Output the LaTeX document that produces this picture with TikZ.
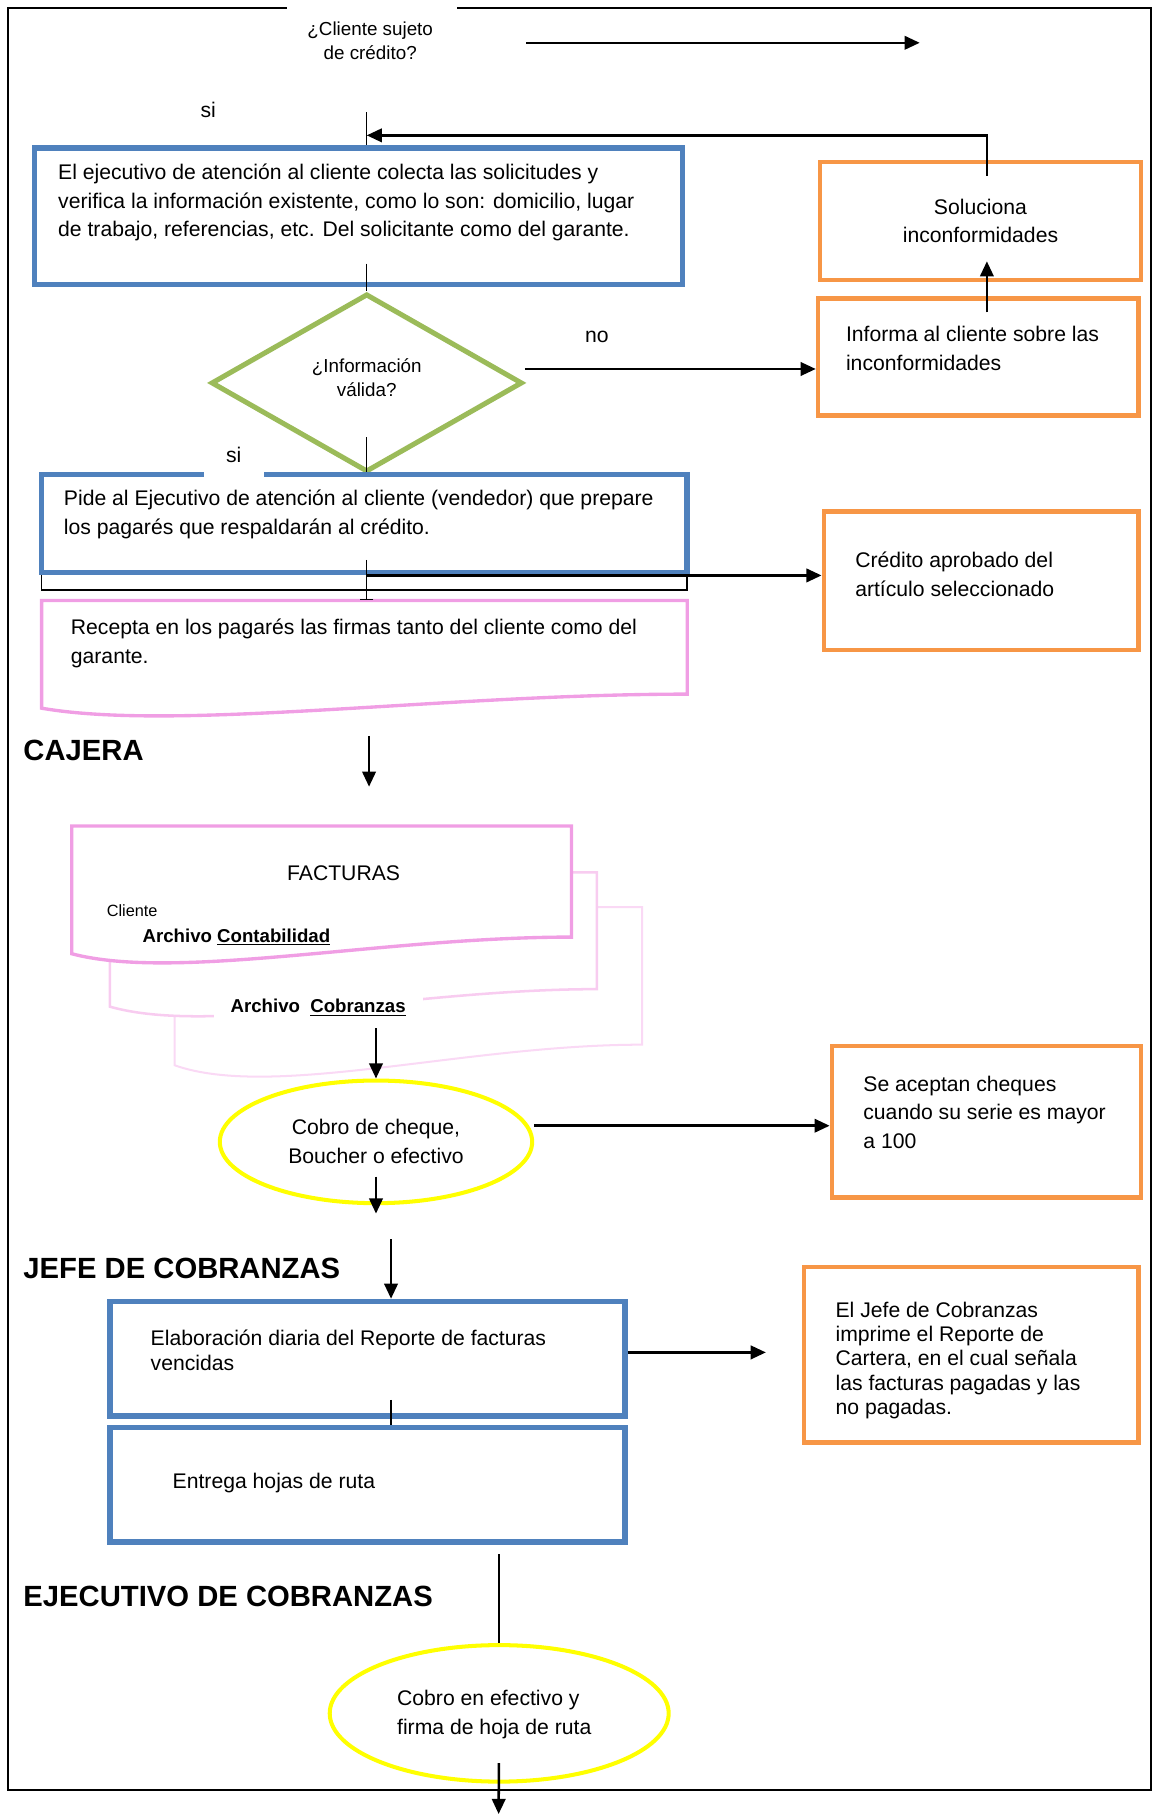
\documentclass[tikz,border=0pt]{standalone}
\usepackage{fontspec}
\setmainfont{Liberation Sans}
\usetikzlibrary{arrows.meta,shapes.geometric}

\definecolor{azul}{HTML}{4F81BD}
\definecolor{naranja}{HTML}{F79646}
\definecolor{verde}{HTML}{9BBB59}
\definecolor{rosa}{HTML}{F09EE4}
\definecolor{rosaclaro}{HTML}{F8CCF0}
\definecolor{rosatenue}{HTML}{FAD9F5}
\definecolor{amarillo}{HTML}{FFFF00}

% hoja con borde ondulado: izquierda, arriba, derecha, abajo
\newcommand{\docpath}[4]{(#1,#2) -- (#3,#2) -- (#3,#4)
  .. controls ({#1+0.62*(#3-#1)},#4) and ({#1+0.21*(#3-#1)},{#4+0.4*(#4-#2)}) .. (#1,{#4+0.15*(#4-#2)}) -- cycle}

\begin{document}
\begin{tikzpicture}[x=0.0242cm, y=-0.0242cm, >={Triangle[length=9pt,width=8pt]},
  font=\fontsize{12.6}{17.2}\selectfont,
  dim/.style 2 args={minimum width=#1*0.0242cm, minimum height=#2*0.0242cm, inner sep=0pt},
  txt/.style={anchor = west, align = left, inner sep = 0pt},
  small/.style={font=\fontsize{11.2}{14.5}\selectfont},
  titulo/.style={anchor = west, inner sep = 0pt, font=\fontsize{17.4}{20}\selectfont\bfseries},
  azulbox/.style={rectangle, draw = azul, line width = 3.3pt},
  naranjabox/.style={rectangle, draw = naranja, line width = 2.6pt},
  circulo/.style={ellipse, draw = amarillo, line width = 2.4pt},
  arr/.style={->, line width = 1.5pt},
  lin/.style={line width = 0.9pt}]
\useasboundingbox (0,0) rectangle (996,1568);
% marco
\draw[line width = 1.1pt] (248,7) -- (7,7) -- (7,1547) -- (995,1547) -- (995,7) -- (395,7);

\node[small, align = center] (cliente) at (320,35.5) {¿Cliente sujeto\\de crédito?};
\coordinate (cli-a) at (455,37);
\coordinate (cli-b) at (795,37);
\node (si1) at (180,95) {si};
\coordinate (c0) at (317,97);
\coordinate (c1) at (317,117);

\node[azulbox, dim={560}{118}] (ejec) at (310,187) {};
\node[txt] (ejec-t) at (50,175) {El ejecutivo de atención al cliente colecta las solicitudes y\\verifica la información existente, como lo son: domicilio, lugar\\de trabajo, referencias, etc. Del solicitante como del garante.};

\node[diamond, draw = verde, line width = 3pt, dim={269}{154}] (valida) at (317,331) {};
\node[small, align = center] (valida-t) at (317,326.5) {¿Información\\válida?};
\node (no) at (516,291) {no};

\node[naranjabox, dim={277}{102}, align = center] (solu) at (847.5,191) {Soluciona\\inconformidades};
\node[naranjabox, dim={277}{101}] (informa) at (845.5,308.5) {};
\node[txt] (informa-t) at (731,301.5) {Informa al cliente sobre las\\inconformidades};

\draw[lin] (36,495) rectangle (594,510);
\node[azulbox, dim={558}{85}] (pide) at (315,452.5) {};
\node[txt] (pide-t) at (55,444.5) {Pide al Ejecutivo de atención al cliente (vendedor) que prepare\\los pagarés que respaldarán al crédito.};
\node[fill = white, dim={52}{38}] (si2) at (202,393.5) {si};

\node[naranjabox, dim={272}{120}] (credito) at (848,502) {};
\node[txt] (credito-t) at (739,496.5) {Crédito aprobado del\\artículo seleccionado};

\draw[rosa, line width = 2pt] \docpath{36}{519}{594}{600};
\node[txt] (recepta) at (61,556.5) {Recepta en los pagarés las firmas tanto del cliente como del\\garante.};
\coordinate (rtop) at (317,519);

\node[titulo] (cajera) at (20,649) {CAJERA};
\coordinate (caj-a) at (319,636);
\coordinate (caj-b) at (319,680);

% facturas con copias
\draw[rosatenue, line width = 1.2pt, fill = white] \docpath{151}{784}{555}{903};
\draw[rosaclaro, line width = 1.5pt, fill = white] \docpath{95}{754}{516}{855};
\draw[rosa, line width = 2pt, fill = white] \docpath{62}{714}{494}{810};
\node (facturas) at (297,755) {FACTURAS};
\node[txt, font=\fontsize{9.7}{12}\selectfont] (cli) at (92,787) {Cliente};
\node[txt, font=\fontsize{11.1}{14}\selectfont\bfseries] (contab) at (123,810) {Archivo \underline{Contabilidad}};
\node[txt, fill = white, inner xsep = 10pt, inner ysep = 3pt, font=\fontsize{11.1}{14}\selectfont\bfseries] (cobr) at (184.5,871) {Archivo\ \ \underline{Cobranzas}};
\coordinate (fac-a) at (325,889);

\node[circulo, dim={270}{106}, align = center] (cobro) at (325,987) {Cobro de cheque,\\Boucher o efectivo};
\coordinate (cob-b) at (325,1049);
\node[naranjabox, dim={267}{131}] (cheques) at (852.5,969.5) {};
\node[txt] (cheques-t) at (746,961.5) {Se aceptan cheques\\cuando su serie es mayor\\a 100};

\node[titulo] (jefe) at (20,1096) {JEFE DE COBRANZAS};
\coordinate (j0) at (338,1071);
\node[azulbox, dim={445}{99}] (reporte) at (317.5,1174.5) {};
\node[txt, font=\fontsize{12.6}{15.2}\selectfont] (reporte-t) at (130,1167) {Elaboración diaria del Reporte de facturas\\vencidas};
\node[azulbox, dim={445}{99}] (entrega) at (317.5,1283.5) {};
\node[txt] (entrega-t) at (149,1282) {Entrega hojas de ruta};
\coordinate (r1) at (662,1169);
\node[naranjabox, dim={289}{152}] (imprime) at (839.5,1171) {};
\node[txt, font=\fontsize{12.6}{14.5}\selectfont] (imprime-t) at (722,1176) {El Jefe de Cobranzas\\imprime el Reporte de\\Cartera, en el cual señala\\las facturas pagadas y las\\no pagadas.};

\node[titulo] (ejecutivo) at (20,1380) {EJECUTIVO DE COBRANZAS};
\node[circulo, dim={293}{118}] (efectivo) at (431.5,1481) {};
\node[txt] (efectivo-t) at (343,1482) {Cobro en efectivo y\\firma de hoja de ruta};
\coordinate (efe-b) at (431,1568);

% conectores
\draw[arr] (cli-a) -- (cli-b);
\draw[lin] (c0) -- (c0 |- ejec.north);
\draw[arr, shorten <=-9.6pt] ([xshift=3.8pt]solu.north) |- (c1);
\draw[lin, shorten <=28.2pt] (ejec.center -| valida) -- (valida.north);
\draw[arr] ([yshift=8.3pt]valida.east) -- ([yshift=8.3pt]valida.east -| informa.west);
\draw[arr, shorten <=-9.6pt, shorten >=-12.4pt] ([xshift=5.2pt]informa.north) -- ([xshift=5.2pt]informa.north |- solu.south);
\draw[lin, shorten <=32.4pt] (valida.center) -- (valida.center |- pide.north);
\draw[lin, -{Bar[width=8pt]}, shorten <=21.7pt] (pide.center -| c0) -- (rtop);
\draw[arr] (pide.south -| c0) -- (pide.south -| credito.west);
\draw[arr] (caj-a) -- (caj-b);
\draw[arr] (fac-a) -- (cobro.north);
\draw[arr, shorten <=20.7pt] (cobro.center) -- (cob-b);
\draw[arr] ([yshift=9.6pt]cobro.east) -- ([yshift=9.6pt]cobro.east -| cheques.west);
\draw[arr] (j0) -- (j0 |- reporte.north);
\draw[lin, shorten <=24.5pt] (reporte.center -| j0) -- (j0 |- entrega.north);
\draw[arr] (reporte.east |- r1) -- (r1);
\draw[lin, shorten <=5.5pt] (entrega.south -| efectivo) -- (efectivo.north);
\draw[arr, shorten <=29.6pt] (efectivo.center) -- (efe-b);
\end{tikzpicture}
\end{document}
